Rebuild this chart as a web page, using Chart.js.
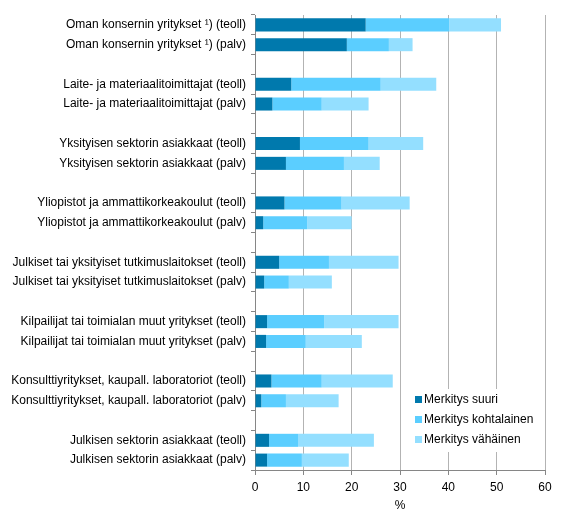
<!DOCTYPE html>
<html>
<head>
<meta charset="utf-8">
<script src="https://cdn.jsdelivr.net/npm/chart.js@4"></script>
<style>
  body { margin: 0; background: #fff; }
  #wrap { width: 569px; height: 531px; position: relative; }
</style>
</head>
<body>
<div id="wrap"><canvas id="myChart"></canvas></div>
<script>
const groups = [
  "Oman konsernin yritykset ¹)",
  "Laite- ja materiaalitoimittajat",
  "Yksityisen sektorin asiakkaat",
  "Yliopistot ja ammattikorkeakoulut",
  "Julkiset tai yksityiset tutkimuslaitokset",
  "Kilpailijat tai toimialan muut yritykset",
  "Konsulttiyritykset, kaupall. laboratoriot",
  "Julkisen sektorin asiakkaat",
];
const sectors = ["teoll", "palv"];

// values per bar, order: group1 teoll, group1 palv, group2 teoll, ...
const suuri = [22.9, 19.0, 7.5, 3.6, 9.3, 6.4, 6.1, 1.7, 5.0, 1.9, 2.5, 2.3, 3.4, 1.3, 2.9, 2.5];
const kohtalainen = [17.3, 8.7, 18.5, 10.2, 14.2, 12.0, 11.8, 9.1, 10.3, 5.1, 11.8, 8.2, 10.4, 5.1, 6.0, 7.2];
const vahainen = [10.7, 4.9, 11.5, 9.7, 11.3, 7.4, 14.1, 9.2, 14.4, 8.9, 15.4, 11.6, 14.7, 10.9, 15.7, 9.7];

const seriesNames = ["Merkitys suuri", "Merkitys kohtalainen", "Merkitys vähäinen"];
const colors = ["#0079AD", "#5BCEFF", "#94DFFF"];
const xTicks = [0, 10, 20, 30, 40, 50, 60];

// build category list with an empty slot between groups
const labels = [];
const slots = [];
groups.forEach(function (g, i) {
  sectors.forEach(function (s, j) {
    labels.push(g + " (" + s + ")");
    slots.push(i * 2 + j);
  });
  if (i < groups.length - 1) {
    labels.push("");
    slots.push(-1);
  }
});

function spread(values) {
  return slots.map(function (k) { return k < 0 ? null : values[k]; });
}

const font = { family: "'Liberation Sans', Arial, sans-serif", size: 12 };

// legend drawn inside the plot area on a white box
const innerLegend = {
  id: "innerLegend",
  afterDraw(chart) {
    const ctx = chart.ctx;
    const x = 412, y = 389;
    ctx.save();
    ctx.fillStyle = "#fff";
    ctx.fillRect(x, y, 128, 63);
    ctx.font = "12px 'Liberation Sans', Arial, sans-serif";
    ctx.textBaseline = "middle";
    seriesNames.forEach(function (name, i) {
      const cy = y + 10.5 + i * 20;
      ctx.fillStyle = colors[i];
      ctx.fillRect(x + 3, cy - 3.5, 7, 7);
      ctx.fillStyle = "#000";
      ctx.fillText(name, x + 12, cy);
    });
    ctx.restore();
  },
};

const data = {
  labels: labels,
  datasets: [
    { label: seriesNames[0], data: spread(suuri), backgroundColor: colors[0] },
    { label: seriesNames[1], data: spread(kohtalainen), backgroundColor: colors[1] },
    { label: seriesNames[2], data: spread(vahainen), backgroundColor: colors[2] },
  ],
};

const config = {
  type: "bar",
  data: data,
  options: {
    indexAxis: "y",
    responsive: true,
    maintainAspectRatio: false,
    animation: false,
    datasets: {
      bar: { barPercentage: 0.66, categoryPercentage: 1, borderWidth: 0 },
    },
    layout: { padding: { top: 15, right: 24, bottom: 16, left: 0 } },
    scales: {
      x: {
        stacked: true,
        min: 0,
        max: 60,
        afterBuildTicks: function (scale) {
          scale.ticks = xTicks.map(function (v) { return { value: v }; });
        },
        afterFit: function (scale) { scale.height = 45; },
        grid: { color: "#b3b3b3", tickLength: 5, tickColor: "#868686" },
        border: { color: "#868686" },
        ticks: { color: "#000", font: font, padding: 5 },
        title: { display: true, text: "%", color: "#000", font: font, padding: { top: 0, bottom: 2 } },
      },
      y: {
        stacked: true,
        afterFit: function (scale) { scale.width = 255; },
        grid: { drawOnChartArea: false, tickLength: 4, color: "#868686" },
        border: { color: "#868686" },
        ticks: { color: "#000", font: font, autoSkip: false, padding: 5 },
      },
    },
    plugins: {
      legend: { display: false },
      tooltip: { enabled: false },
    },
  },
  plugins: [innerLegend],
};

const myChart = new Chart(document.getElementById("myChart"), config);
</script>
</body>
</html>
